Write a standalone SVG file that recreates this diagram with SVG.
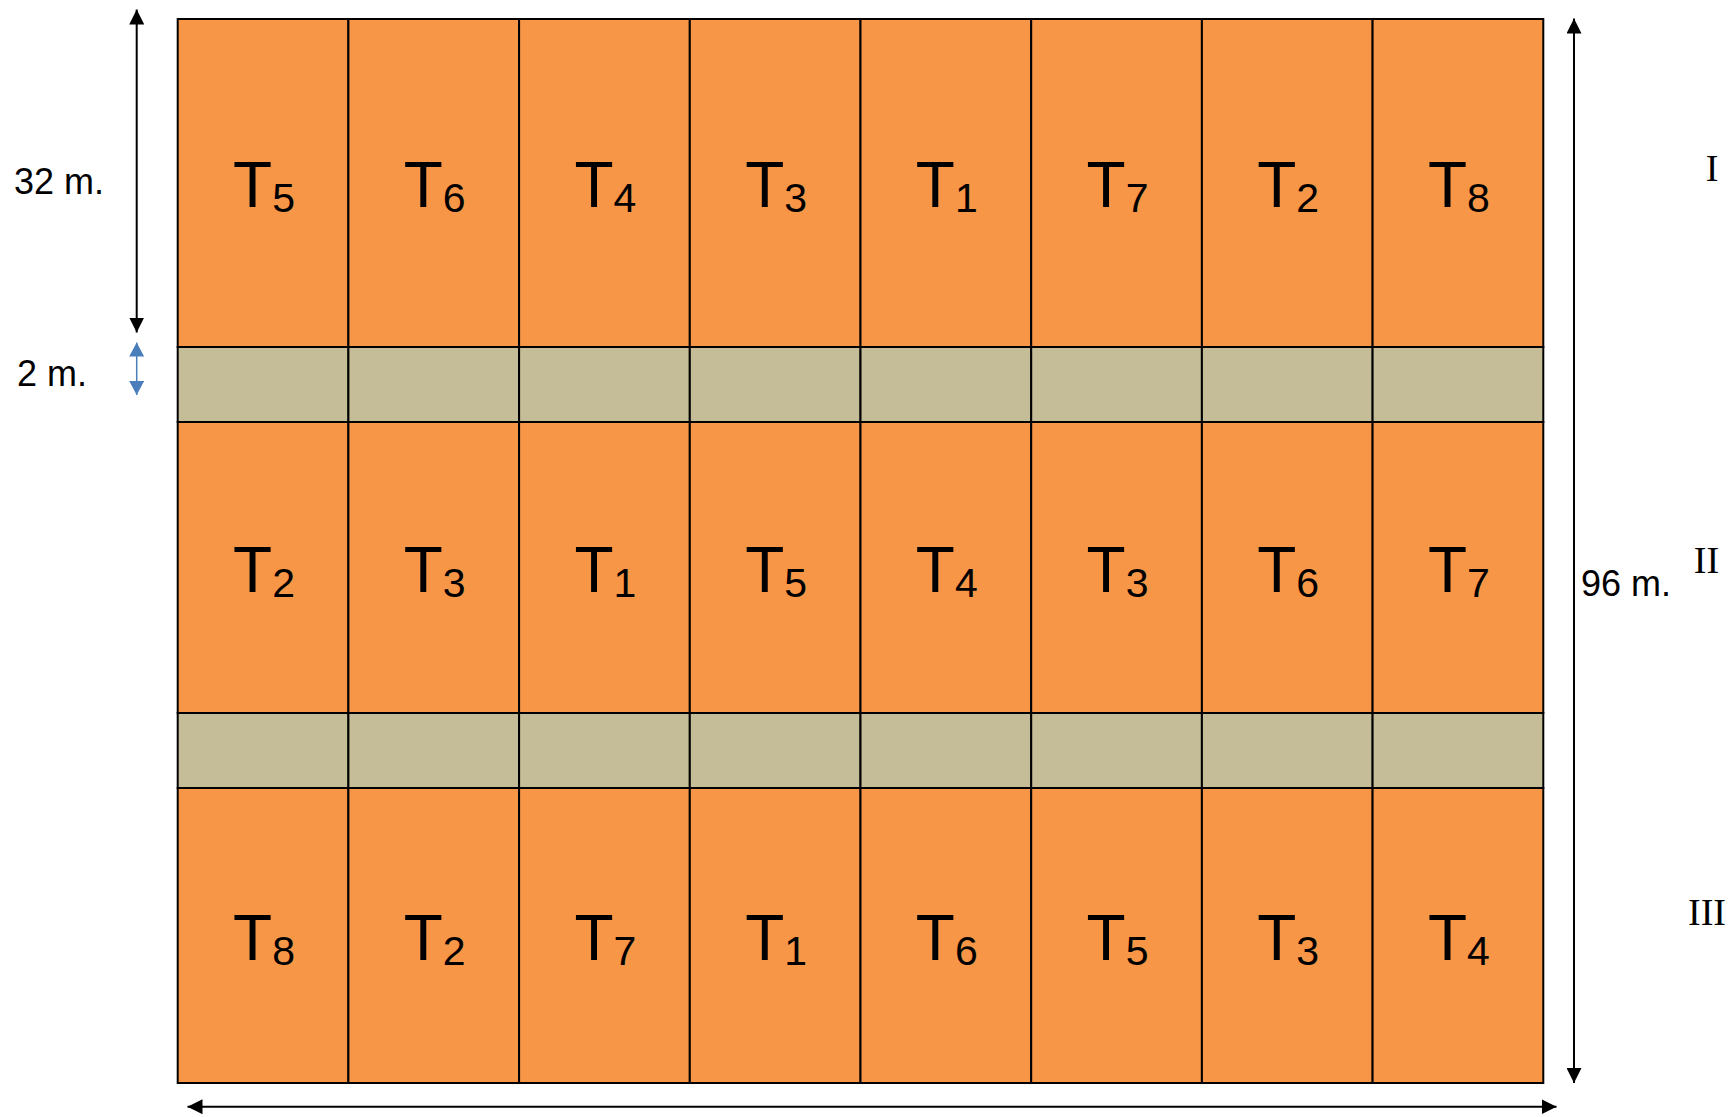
<svg xmlns="http://www.w3.org/2000/svg" width="1730" height="1117" viewBox="0 0 1730 1117">
<style>
.plot{fill:#F79646;stroke:#000;stroke-width:2}
.path{fill:#C4BD97;stroke:#000;stroke-width:2}
.lbl{font-family:"Liberation Sans",Arial,sans-serif;font-size:64px;fill:#000;text-anchor:middle}
.sub{font-size:41px}
.dim{font-family:"Liberation Sans",Arial,sans-serif;font-size:36px;fill:#000}
.rom{font-family:"Liberation Serif","Times New Roman",serif;font-size:38px;fill:#000;text-anchor:middle}
.arr{stroke:#000;stroke-width:2;fill:none;marker-start:url(#ah);marker-end:url(#ah)}
.arrb{stroke:#4A7EBB;stroke-width:1.5;fill:none;marker-start:url(#ahb);marker-end:url(#ahb)}
</style>
<defs>
<marker id="ah" viewBox="0 0 15 15" refX="15" refY="7.5" markerWidth="15" markerHeight="15" markerUnits="userSpaceOnUse" orient="auto-start-reverse"><path d="M0,0 L15,7.5 L0,15 z" fill="#000"/></marker>
<marker id="ahb" viewBox="0 0 14 15" refX="14" refY="7.5" markerWidth="14" markerHeight="15" markerUnits="userSpaceOnUse" orient="auto-start-reverse"><path d="M0,0 L14,7.5 L0,15 z" fill="#4A7EBB"/></marker>
</defs>
<rect width="1730" height="1117" fill="#fff"/>
<g id="paths">
<rect class="path" x="177.7" y="347" width="170.7" height="75"/>
<rect class="path" x="348.4" y="347" width="170.7" height="75"/>
<rect class="path" x="519.1" y="347" width="170.7" height="75"/>
<rect class="path" x="689.8" y="347" width="170.7" height="75"/>
<rect class="path" x="860.5" y="347" width="170.7" height="75"/>
<rect class="path" x="1031.2" y="347" width="170.7" height="75"/>
<rect class="path" x="1201.9" y="347" width="170.7" height="75"/>
<rect class="path" x="1372.6" y="347" width="170.7" height="75"/>
<rect class="path" x="177.7" y="713" width="170.7" height="75"/>
<rect class="path" x="348.4" y="713" width="170.7" height="75"/>
<rect class="path" x="519.1" y="713" width="170.7" height="75"/>
<rect class="path" x="689.8" y="713" width="170.7" height="75"/>
<rect class="path" x="860.5" y="713" width="170.7" height="75"/>
<rect class="path" x="1031.2" y="713" width="170.7" height="75"/>
<rect class="path" x="1201.9" y="713" width="170.7" height="75"/>
<rect class="path" x="1372.6" y="713" width="170.7" height="75"/>
</g>
<g id="row1">
<g id="r1c1"><rect class="plot" x="177.7" y="19" width="170.7" height="328"/><text class="lbl" x="264" y="207">T<tspan class="sub" dy="5">5</tspan></text></g>
<g id="r1c2"><rect class="plot" x="348.4" y="19" width="170.7" height="328"/><text class="lbl" x="434.7" y="207">T<tspan class="sub" dy="5">6</tspan></text></g>
<g id="r1c3"><rect class="plot" x="519.1" y="19" width="170.7" height="328"/><text class="lbl" x="605.4" y="207">T<tspan class="sub" dy="5">4</tspan></text></g>
<g id="r1c4"><rect class="plot" x="689.8" y="19" width="170.7" height="328"/><text class="lbl" x="776.1" y="207">T<tspan class="sub" dy="5">3</tspan></text></g>
<g id="r1c5"><rect class="plot" x="860.5" y="19" width="170.7" height="328"/><text class="lbl" x="946.8" y="207">T<tspan class="sub" dy="5">1</tspan></text></g>
<g id="r1c6"><rect class="plot" x="1031.2" y="19" width="170.7" height="328"/><text class="lbl" x="1117.5" y="207">T<tspan class="sub" dy="5">7</tspan></text></g>
<g id="r1c7"><rect class="plot" x="1201.9" y="19" width="170.7" height="328"/><text class="lbl" x="1288.2" y="207">T<tspan class="sub" dy="5">2</tspan></text></g>
<g id="r1c8"><rect class="plot" x="1372.6" y="19" width="170.7" height="328"/><text class="lbl" x="1458.9" y="207">T<tspan class="sub" dy="5">8</tspan></text></g>
</g>
<g id="row2">
<g id="r2c1"><rect class="plot" x="177.7" y="422" width="170.7" height="291"/><text class="lbl" x="264" y="592">T<tspan class="sub" dy="5">2</tspan></text></g>
<g id="r2c2"><rect class="plot" x="348.4" y="422" width="170.7" height="291"/><text class="lbl" x="434.7" y="592">T<tspan class="sub" dy="5">3</tspan></text></g>
<g id="r2c3"><rect class="plot" x="519.1" y="422" width="170.7" height="291"/><text class="lbl" x="605.4" y="592">T<tspan class="sub" dy="5">1</tspan></text></g>
<g id="r2c4"><rect class="plot" x="689.8" y="422" width="170.7" height="291"/><text class="lbl" x="776.1" y="592">T<tspan class="sub" dy="5">5</tspan></text></g>
<g id="r2c5"><rect class="plot" x="860.5" y="422" width="170.7" height="291"/><text class="lbl" x="946.8" y="592">T<tspan class="sub" dy="5">4</tspan></text></g>
<g id="r2c6"><rect class="plot" x="1031.2" y="422" width="170.7" height="291"/><text class="lbl" x="1117.5" y="592">T<tspan class="sub" dy="5">3</tspan></text></g>
<g id="r2c7"><rect class="plot" x="1201.9" y="422" width="170.7" height="291"/><text class="lbl" x="1288.2" y="592">T<tspan class="sub" dy="5">6</tspan></text></g>
<g id="r2c8"><rect class="plot" x="1372.6" y="422" width="170.7" height="291"/><text class="lbl" x="1458.9" y="592">T<tspan class="sub" dy="5">7</tspan></text></g>
</g>
<g id="row3">
<g id="r3c1"><rect class="plot" x="177.7" y="788" width="170.7" height="295"/><text class="lbl" x="264" y="960">T<tspan class="sub" dy="5">8</tspan></text></g>
<g id="r3c2"><rect class="plot" x="348.4" y="788" width="170.7" height="295"/><text class="lbl" x="434.7" y="960">T<tspan class="sub" dy="5">2</tspan></text></g>
<g id="r3c3"><rect class="plot" x="519.1" y="788" width="170.7" height="295"/><text class="lbl" x="605.4" y="960">T<tspan class="sub" dy="5">7</tspan></text></g>
<g id="r3c4"><rect class="plot" x="689.8" y="788" width="170.7" height="295"/><text class="lbl" x="776.1" y="960">T<tspan class="sub" dy="5">1</tspan></text></g>
<g id="r3c5"><rect class="plot" x="860.5" y="788" width="170.7" height="295"/><text class="lbl" x="946.8" y="960">T<tspan class="sub" dy="5">6</tspan></text></g>
<g id="r3c6"><rect class="plot" x="1031.2" y="788" width="170.7" height="295"/><text class="lbl" x="1117.5" y="960">T<tspan class="sub" dy="5">5</tspan></text></g>
<g id="r3c7"><rect class="plot" x="1201.9" y="788" width="170.7" height="295"/><text class="lbl" x="1288.2" y="960">T<tspan class="sub" dy="5">3</tspan></text></g>
<g id="r3c8"><rect class="plot" x="1372.6" y="788" width="170.7" height="295"/><text class="lbl" x="1458.9" y="960">T<tspan class="sub" dy="5">4</tspan></text></g>
</g>
<g id="connectors">
<line class="arr" x1="136.7" y1="9.5" x2="136.7" y2="332.5"/>
<line class="arrb" x1="136.7" y1="342.5" x2="136.7" y2="395"/>
<line class="arr" x1="1574" y1="18.5" x2="1574" y2="1083"/>
<line class="arr" x1="187.5" y1="1106.7" x2="1556.5" y2="1106.7"/>
</g>
<g id="labels">
<text class="dim" x="14" y="194">32 m.</text>
<text class="dim" x="17" y="386">2 m.</text>
<text class="dim" x="1581" y="596">96 m.</text>
<text class="rom" x="1712" y="181">I</text>
<text class="rom" x="1706.5" y="573">II</text>
<text class="rom" x="1707" y="925">III</text>
</g>
</svg>
